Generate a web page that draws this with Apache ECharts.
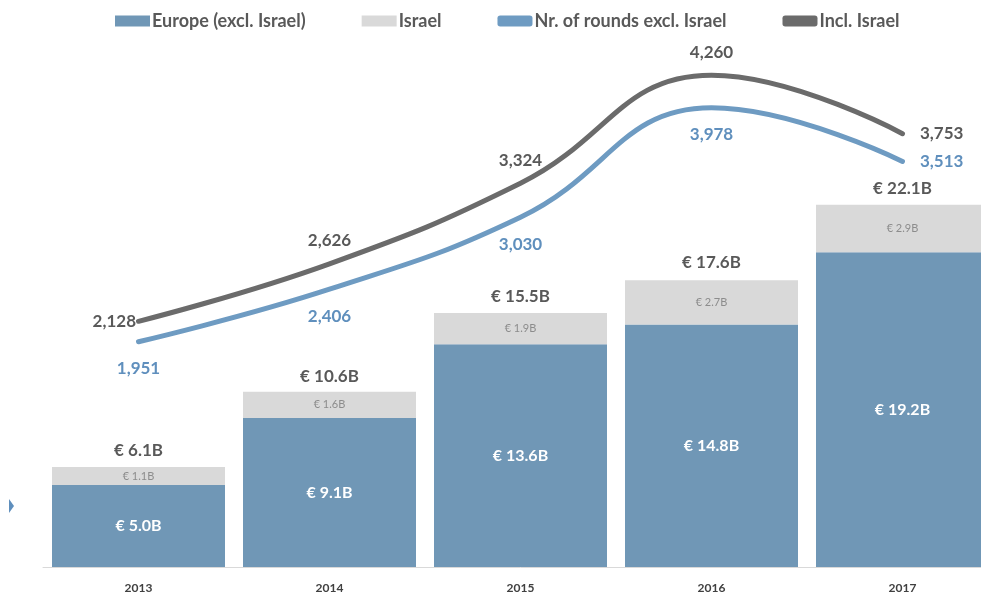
<!DOCTYPE html>
<html><head><meta charset="utf-8">
<script src="https://cdn.jsdelivr.net/npm/echarts@6/dist/echarts.min.js"></script>
<style>html,body{margin:0;padding:0;background:#fff;overflow:hidden}#c{width:1000px;height:596px}</style>
</head><body><div id="c"></div>
<script>
const categories = ['2013','2014','2015','2016','2017'];
const europe = [5.0, 9.1, 13.6, 14.8, 19.2];
const israel = [1.1, 1.6, 1.9, 2.7, 2.9];
const totals = [6.1, 10.6, 15.5, 17.6, 22.1];
const roundsExcl = [1951, 2406, 3030, 3978, 3513];
const roundsIncl = [2128, 2626, 3324, 4260, 3753];

const FONT = 'Lato';
const fmtB = v => '€ ' + v.toFixed(1) + 'B';
const fmtN = v => v.toLocaleString('en-US');

const inclLabelPos = ['left','top','top','top','right'];
const exclLabelPos = ['bottom','bottom','bottom','bottom','right'];

const chart = echarts.init(document.getElementById('c'));
chart.setOption({
  animation: false,
  textStyle: { fontFamily: FONT },
  legend: {
    top: 12, left: 115, padding: 0,
    itemWidth: 35, itemHeight: 11, itemGap: 56,
    textStyle: { fontFamily: FONT, fontSize: 18, fontWeight: 'bold', color: '#595959', padding: [0,0,0,-3] },
    data: [
      { name: 'Europe (excl. Israel)', icon: 'rect' },
      { name: 'Israel', icon: 'rect' },
      { name: 'Nr. of rounds excl. Israel', icon: 'roundRect' },
      { name: 'Incl. Israel', icon: 'roundRect' }
    ]
  },
  grid: { left: 43, width: 955, top: 59, bottom: 29 },
  xAxis: {
    type: 'category', data: categories,
    axisLine: { lineStyle: { color: '#d9d9d9', width: 1 } },
    axisTick: { show: false },
    axisLabel: { fontFamily: FONT, fontSize: 12, fontWeight: 'bold', color: '#404040', margin: 15 }
  },
  yAxis: [
    { type: 'value', min: 0, max: 31, show: false, splitLine: { show: false } },
    { type: 'value', min: 0, max: 4400, show: false, splitLine: { show: false } }
  ],
  series: [
    {
      name: 'Europe (excl. Israel)', type: 'bar', stack: 'b', barWidth: 173,
      data: europe,
      itemStyle: { color: '#7097b6' },
      label: { show: true, position: 'inside', formatter: p => fmtB(p.value),
        color: '#ffffff', fontSize: 16, fontWeight: 'bold', fontFamily: FONT }
    },
    {
      name: 'Israel', type: 'bar', stack: 'b', barWidth: 173,
      data: israel,
      itemStyle: { color: '#d9d9d9' },
      label: { show: true, position: 'inside', formatter: p => fmtB(p.value),
        color: '#8c8c8c', fontSize: 11, fontFamily: FONT }
    },
    {
      name: 'Total', type: 'bar', barWidth: 173, barGap: '-100%', z: 1,
      data: totals,
      itemStyle: { color: 'rgba(0,0,0,0)' },
      label: { show: true, position: 'top', distance: 8, formatter: p => fmtB(p.value),
        color: '#595959', fontSize: 17, fontWeight: 'bold', fontFamily: FONT },
      tooltip: { show: false }
    },
    {
      name: 'Nr. of rounds excl. Israel', type: 'line', yAxisIndex: 1, smooth: 0.45,
      symbol: 'circle', symbolSize: 1, showSymbol: true, z: 5,
      lineStyle: { color: '#6e9bc2', width: 5, cap: 'round' },
      itemStyle: { color: '#6e9bc2' },
      data: roundsExcl.map((v, i) => ({ value: v, label: { position: exclLabelPos[i],
        distance: i === 4 ? 17 : 18 } })),
      label: { show: true, formatter: p => fmtN(p.value), color: '#5f8fbd',
        fontSize: 17, fontWeight: 'bold', fontFamily: FONT }
    },
    {
      name: 'Incl. Israel', type: 'line', yAxisIndex: 1, smooth: 0.45,
      symbol: 'circle', symbolSize: 1, showSymbol: true, z: 5,
      lineStyle: { color: '#6b6b6b', width: 5, cap: 'round' },
      itemStyle: { color: '#6b6b6b' },
      data: roundsIncl.map((v, i) => ({ value: v, label: { position: inclLabelPos[i],
        distance: i === 0 ? 2 : (i === 4 ? 17 : 14) } })),
      label: { show: true, formatter: p => fmtN(p.value), color: '#595959',
        fontSize: 17, fontWeight: 'bold', fontFamily: FONT }
    }
  ],
  graphic: [
    { type: 'polygon', shape: { points: [[9,499],[14,506],[9,513]] }, style: { fill: '#5f8fbd' } }
  ]
});
</script>
</body></html>
